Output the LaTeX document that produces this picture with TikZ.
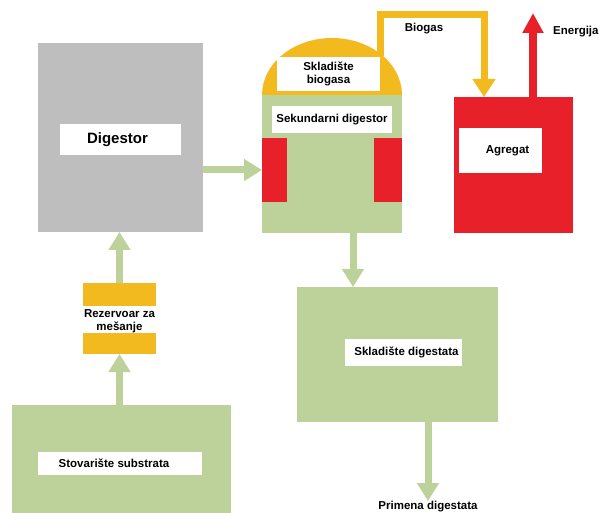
\documentclass[tikz,border=0pt]{standalone}
\usepackage{fontspec}
\setmainfont{Liberation Sans}
\usetikzlibrary{arrows.meta,positioning}
\definecolor{BGgreen}{HTML}{BDD19B}
\definecolor{BGyellow}{HTML}{F2BA1E}
\definecolor{BGred}{HTML}{E8202A}
\definecolor{BGgrey}{HTML}{BEBEBE}
\tikzset{
  box/.style 2 args={anchor=north west, inner sep=0pt, outer sep=0pt, minimum width=#1, minimum height=#2},
  lbl/.style={font=\bfseries\fontsize{11.5}{13}\selectfont, inner sep=0pt, align=center},
  garrow/.style={draw=BGgreen, line width=7pt, -{Triangle[width=21pt,length=18pt]}},
  yarrow/.style={draw=BGyellow, line width=7pt, -{Triangle[width=22pt,length=18pt]}},
  rarrow/.style={draw=BGred, line width=8pt, -{Triangle[width=20pt,length=20pt]}}
}
\begin{document}
\begin{tikzpicture}[x=1pt, y=-1pt]
	\useasboundingbox (0,0) rectangle (600,513);
	% digestor
	\node[box={165pt}{189pt}, fill=BGgrey] (digestor) at (38,43) {};
	\node[box={121pt}{31pt}, fill=white] (diglabel) at (60,124) {};
	\node[lbl, font=\bfseries\fontsize{15}{17}\selectfont, xshift=-3pt] at (diglabel) {Digestor};
	% sekundarni digestor + dome
	\node[box={140pt}{138pt}, fill=BGgreen] (sekundarni) at (262,95) {};
	\fill[BGyellow] (sekundarni.north west) arc[start angle=180, end angle=0, x radius=70pt, y radius=57pt] -- cycle;
	\node[box={103pt}{34pt}, fill=white] (domelabel) at (277,57) {};
	\node[lbl] at (domelabel) {Skladište\\biogasa};
	\node[box={120pt}{27pt}, fill=white] (seklabel) at (272,106) {};
	\node[lbl] at (seklabel) {Sekundarni digestor};
	\node[box={25pt}{64pt}, fill=BGred] (lred) at (262,138) {};
	\node[box={28pt}{64pt}, fill=BGred] (rred) at (374,138) {};
	% agregat
	\node[box={119pt}{136pt}, fill=BGred] (agregat) at (454,97) {};
	\node[box={83pt}{45pt}, fill=white] (aglabel) at (459,128) {};
	\node[lbl, xshift=7pt] at (aglabel) {Agregat};
	% skladiste digestata
	\node[box={201pt}{135pt}, fill=BGgreen] (digestata) at (297,287) {};
	\node[box={117pt}{27pt}, fill=white] (dlabel) at (345,339) {};
	\node[lbl, xshift=3pt] at (dlabel) {Skladište digestata};
	\node[lbl, anchor=north] (primena) at (428,501) {Primena digestata};
	% stovariste + rezervoar
	\node[box={219pt}{108pt}, fill=BGgreen] (stov) at (12,405) {};
	\node[box={164pt}{23pt}, fill=white] (stovlabel) at (38,452) {};
	\node[lbl, xshift=-6pt] at (stovlabel) {Stovarište substrata};
	\node[box={73pt}{23pt}, fill=BGyellow] (rezt) at (83,283) {};
	\node[box={73pt}{21pt}, fill=BGyellow] (rezb) at (83,333) {};
	\node[lbl] (rez) at (119.5,321) {Rezervoar za\\mešanje};
	\node[lbl] (biogas) at (424,29) {Biogas};
	\coordinate (pipe) at (380.5,56);
	\coordinate (pipetop) at (380.5,15);
	\coordinate (energy) at (533,13);
	\node[lbl, anchor=west] (energija) at (553,32) {Energija};
	% tokovi
	\draw[garrow] (stov.north -| rezb) -- (rezb.south);
	\draw[garrow] (rezt.north) -- (rezt.north |- digestor.south);
	\draw[garrow] (digestor.east |- lred) -- (lred.west);
	\draw[garrow] ([xshift=21pt]sekundarni.south) -- ([xshift=21pt]sekundarni.south |- digestata.north);
	\draw[garrow] (digestata.south -| primena) -- (primena.north);
	\draw[yarrow] (pipe) -- (pipetop) -| ([xshift=-29.5pt]agregat.north);
	\draw[rarrow] (agregat.north -| energy) -- (energy);
\end{tikzpicture}
\end{document}
